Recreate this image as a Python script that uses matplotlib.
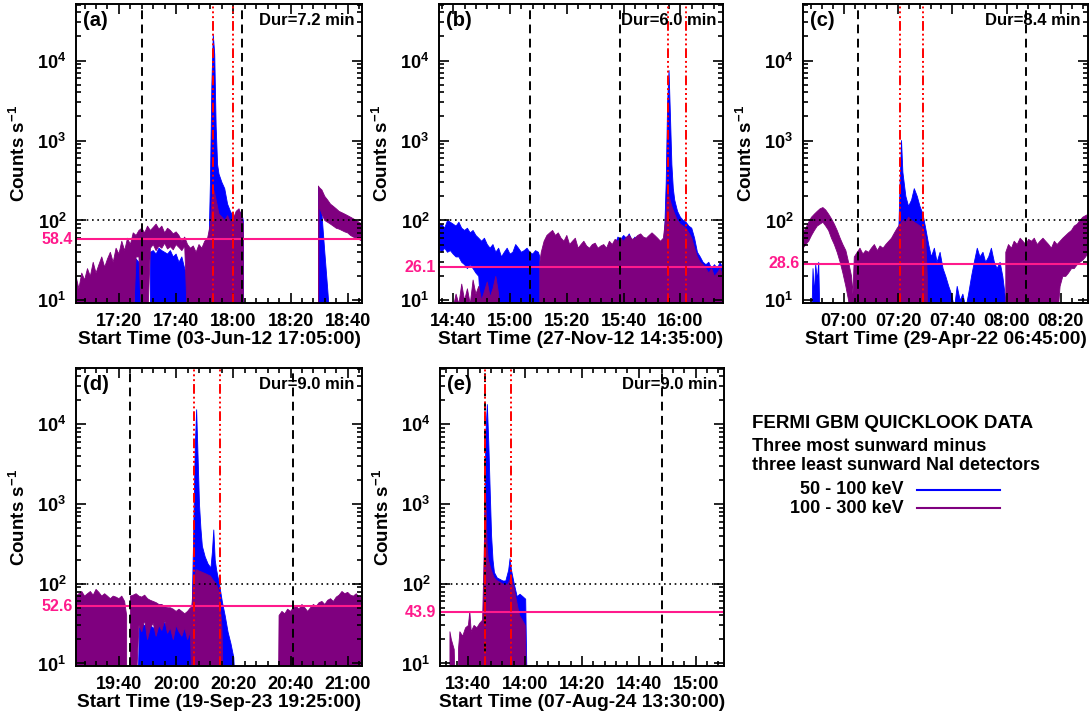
import numpy as np
import matplotlib
matplotlib.use("Agg")
import matplotlib.pyplot as plt
from matplotlib.lines import Line2D
from matplotlib.ticker import FixedLocator, FixedFormatter, LogLocator, NullFormatter
import matplotlib.transforms as mtransforms

plt.rcParams["font.family"] = ["Liberation Sans", "DejaVu Sans"]
plt.rcParams["font.weight"] = "bold"
plt.rcParams["mathtext.fontset"] = "custom"
plt.rcParams["mathtext.rm"] = "Liberation Sans:bold"
plt.rcParams["mathtext.bf"] = "Liberation Sans:bold"
plt.rcParams["axes.linewidth"] = 1.4

BLUE = "#0000ff"
PURPLE = "#7f007f"
PINK = "#ff1a8c"
FLOOR = 5  # below the axis, marks "down to the bottom"

# ---- panel (a): 03-Jun-12, minutes after 17:05 ----
A_PURPLE_T = [0, 1, 2, 3, 4, 5, 6, 7, 8, 9, 10, 11, 12, 13, 14, 15, 16, 17, 18, 19, 20, 21, 22,
              23, 24, 25, 26, 27, 28, 29, 30, 31, 32, 33, 34, 35, 36,
              37, 38, 39, 40, 41, 42, 43, 44, 45, 46,
              47, 47.5, 48, 48.5, 49, 50, 51, 52, 53, 54, 55, 56, 57, 58, 58.5, None,
              84.8, 85, 86, 87, 88, 89, 90, 91, 92, 93, 94, 95, 96, 97, 98, 99, 100]
A_PURPLE_HI = [20, 14, 22, 18, 25, 20, 30, 22, 28, 35, 26, 33, 40, 30, 45, 38, 55, 42, 60, 50, 70, 65, 75,
               80, 70, 85, 75, 82, 90, 78, 85, 70, 80, 75, 68, 72, 65,
               55, 62, 50, 45, 48, 40, 50, 45, 55, 60,
               90, 180, 250, 220, 180, 120, 110, 100, 115, 95, 105, 130, 140, 110, 90, None,
               270, 260, 240, 200, 180, 160, 150, 140, 130, 125, 120, 115, 110, 105, 100, 95, 90]
A_PURPLE_LO = [5] * 21 + [35, 35, 5, 5, 5] + [45, 50, 42, 48, 45, 52, 44, 47, 43, 50, 46, 42, 48] + [5] * 8 + \
              [5] * 15 + [None, 5, 150, 120, 100, 95, 90, 85, 80, 78, 75, 72, 70, 65, 62, 60, 58, 55]
A_BLUE_T = [20.5, 21, 22, 23, None,
            26, 27, 28, 29, 30, 31, 32, 33, 34, 35, 36, 37, 38, 39, None,
            46.5, 47, 47.5, 48, 48.5, 49, 49.5, 50, 51, 52, 53, 54, 55, 56, 57, 58, 58.5, None,
            84.8, 85, 86, 87, 88, 88.5]
A_BLUE_HI = [28, 33, 30, 26, None,
             40, 42, 38, 45, 42, 40, 38, 42, 35, 38, 30, 35, 25, 20, None,
             50, 300, 5000, 21000, 12000, 1500, 500, 380, 300, 250, 160, 130, 110, 115, 130, 120, 100, None,
             260, 250, 120, 40, 14, 8]

# ---- panel (b): 27-Nov-12, minutes after 14:35 ----
B_PURPLE_T = [5, 6, 7, 8, 9, 10, 11, 12, 13, 14, 15, 16, 17, 18, 19, 20, 21, None,
              35.5, 36, 37, 38, 39, 40, 41, 42, 43, 44, 45, 46, 47, 48, 49, 50, 51, 52, 53, 54, 55,
              56, 57, 58, 59, 60, 61, 62, 63, 64, 65, 66, 67, 68, 69, 70, 71, 72, 73, 74, 75,
              76, 77, 78, 79, 80, 80.5, 81, 82, 83, 84, 85, 86, 87, 88, 89, 90, 91, 92, 93, 94,
              95, 96, 97, 98, 99, 100]
B_PURPLE_HI = [8, 12, 9, 16, 10, 14, 9, 18, 12, 15, 10, 13, 17, 11, 14, 20, 12, None,
               30, 40, 55, 65, 70, 75, 65, 70, 60, 55, 65, 50, 55, 60, 45, 50, 55, 48, 45, 50, 52,
               45, 48, 50, 45, 55, 50, 58, 55, 60, 55, 62, 65, 58, 60, 65, 68, 62, 60, 65, 70,
               65, 60, 55, 60, 120, 250, 200, 150, 120, 100, 90, 85, 80, 70, 60, 45, 35, 30, 28, 25,
               22, 25, 20, 22, 25, 20]
B_BLUE_T = [0, 1, 2, 3, 4, 5, 6, 7, 8, 9, 10, 11, 12, 13, 14, 15, 16, 17, 18, 19, 20, 21, 22, 23,
            24, 25, 26, 27, 28, 29, 30, 31, 32, 33, 34, 35, 35.5, None,
            62, 63, 64, 65, 66, 67, 68, 69, 70, None,
            79.5, 80, 80.5, 81, 81.5, 82, 82.5, 83, 84, 85, 86, 87, 88, 89, 90, 91, 92, 93, 94,
            95, 96, 97, 98, 99, 100]
B_BLUE_HI = [85, 90, 80, 100, 95, 90, 85, 95, 80, 75, 80, 70, 75, 65, 60, 55, 60, 50, 45, 50, 40, 45, 35, 40,
             45, 38, 40, 50, 45, 40, 42, 45, 40, 38, 42, 40, 35, None,
             50, 62, 58, 65, 60, 68, 55, 62, 50, None,
             80, 300, 3000, 7500, 2000, 500, 250, 180, 130, 110, 100, 95, 85, 80, 60, 40, 35, 30, 28,
             30, 25, 28, 25, 30, 25]
B_BLUE_LO = [45, 40, 45, 40, 42, 38, 35, 35, 30, 28, 25, 28, 25, 22, 20] + [5] * 22 + [None] + [5] * 9 + [None] + [5] * 25

# ---- panel (c): 29-Apr-22, minutes after 06:45 (axis spans 105 min) ----
C_PURPLE_T = [0, 1.05, 2.1, 3.15, 4.2, 5.25, 6.3, 7.35, 8.4, 9.45, 10.5, 11.55, 12.6, 13.7, 14.7, 15.8,
              16.8, 17.9, 18.4,
              18.9, 20.0, 21.0, 22.1, 23.1, 24.2, 25.2, 26.3, 27.4, 28.4, 29.5, 30.5, 31.6, 32.6,
              33.7, 34.7, 35.8, 36.8, 37.9, 38.9, 40.0, 41.0, 42.1, 43.1, 44.2, 45.2, 45.8, None,
              74.7, 75.7, 76.8, 77.8, 78.9, 80.0, 81.0, 82.1, 83.1, 84.2, 85.2, 86.3, 87.3, 88.4, 89.4,
              90.5, 91.5, 92.6, 93.6, 94.7, 95.7, 96.8, 97.8, 98.9, 99.9, 101.0, 102.0, 103.1, 104.1, 105.2]
C_PURPLE_HI = [70, 80, 95, 110, 120, 130, 140, 145, 135, 120, 105, 90, 75, 60, 50, 42, 30, 20, 12,
               35, 40, 45, 38, 42, 40, 45, 50, 42, 48, 45, 50, 55, 60,
               70, 80, 90, 100, 95, 110, 100, 95, 90, 85, 80, 60, 20, None,
               40, 50, 45, 55, 50, 60, 55, 50, 58, 55, 60, 50, 55, 60, 55, 50, 45, 55, 50,
               55, 60, 65, 70, 75, 85, 90, 100, 110, 115, 120]
C_PURPLE_LO = [45, 50, 55, 65, 75, 85, 90, 95, 85, 75, 60, 50, 40, 30, 22, 15, 10, 5, 5] + [5] * 27 + [None] + \
              [5] * 19 + [15, 20, 20, 22, 25, 25, 28, 30, 32, 35, 40]
C_BLUE_T = [3.2, 3.7, 4.2, 4.7, 5.3, 5.8, 6.3, None,
            34.7, 35.2, 35.8, 36.3, 36.8, 37.9, 38.9, 40.0, 41.0, 42.1, 43.1, 44.2, 45.2, 46.3, 47.3,
            48.4, 49.4, 50.5, 51.6, 52.6, 53.7, 54.7,
            55.8, 56.8, 57.9, 58.9, 60.0, 61.0, 62.1, 63.1, 64.2, 65.2, 66.3, 67.3, 68.4, 69.4, 70.5,
            71.5, 72.6, 73.6, 74.7]
C_BLUE_HI = [5, 25, 12, 28, 18, 30, 5, None,
             50, 60, 300, 1000, 400, 200, 150, 180, 250, 200, 150, 120, 80, 50, 35, 45, 30, 40, 25, 20, 15, 12,
             8, 15, 10, 12, 8, 12, 20, 30, 45, 35, 40, 30, 35, 45, 30, 25, 30, 20, 10]

# ---- panel (d): 19-Sep-23, minutes after 19:25 ----
D_PURPLE_T = [0, 1, 2, 3, 4, 5, 6, 7, 8, 9, 10, 11, 12, 13, 14, 15, 16, 17, 17.7, None,
              19, 20, 21, 22, 23, 24, 25, 26, 27, 28, 29, 30, 31, 32, 33, 34, 35, 36, 37, 38, 39, 40,
              40.5, 41, 42, 43, 44, 45, 46, 47, 48, 49, 50, 51, 51.5, None,
              70.8, 71, 72, 73, 74, 75, 76, 77, 78, 79, 80, 81, 82, 83, 84, 85, 86, 87, 88, 89,
              90, 91, 92, 93, 94, 95, 96, 97, 98, 99, 100]
D_PURPLE_HI = [70, 75, 80, 70, 75, 80, 72, 85, 78, 70, 75, 70, 65, 70, 68, 65, 70, 60, 40, None,
               70, 72, 75, 70, 68, 72, 65, 62, 60, 58, 55, 55, 52, 50, 50, 48, 45, 48, 45, 42, 45, 50,
               50, 100, 150, 145, 140, 135, 130, 125, 110, 100, 80, 30, 5, None,
               5, 40, 45, 42, 48, 45, 50, 52, 48, 55, 50, 45, 50, 55, 52, 58, 60, 55, 62, 65,
               60, 68, 72, 80, 75, 78, 72, 70, 75, 68, 70]
D_PURPLE_LO = [5] * 19 + [None] + [5, 5, 5] + \
              [30, 25, 35, 20, 28, 32, 22, 30, 26, 35, 24, 28, 20, 30, 25, 22, 28, 20, 25] + [5] * 13 + [None] + [5] * 31
D_BLUE_T = [21.5, 22, 23, 24, 25, 26, 27, 28, 29, 30, 31, 32, 33, 34, 35, 36, 37, 38, 39, 40,
            40.5, 41, 41.5, 42, 42.5, 43, 43.5, 44, 45, 46, 47, 47.5, 48, 48.5, 49, 50, 51, 52,
            53, 54, 55, 55.5]
D_BLUE_HI = [5, 28, 32, 30, 35, 30, 28, 33, 30, 35, 32, 30, 28, 35, 30, 32, 30, 35, 38, 40,
             60, 500, 5000, 15500, 4000, 1000, 500, 300, 220, 180, 160, 250, 480, 200, 150, 100, 60, 40,
             25, 18, 12, 5]

# ---- panel (e): 07-Aug-24, minutes after 13:30 ----
E_PURPLE_T = [3.5, 4, 5, 5.4, None,
              6.5, 7, 8, 9, 10, 10.5, 11, 12, 13, 14, 15, 15.5, 16, 16.3, 16.6, 17,
              18, 19, 20, 21, 22, 23, 24, 25, 26, 27, 28, 29, 30, 30.5]
E_PURPLE_HI = [25, 20, 15, 5, None,
               15, 25, 22, 28, 30, 45, 25, 30, 28, 32, 35, 200, 1500, 800, 300, 200,
               150, 120, 110, 105, 100, 95, 100, 120, 90, 60, 40, 35, 30, 5]
E_BLUE_T = [15.5, 16, 16.5, 17, 17.5, 18, 18.5, 19, 20, 21, 22, 23, 24, 24.5,
            25, 26, 27, 28, 29, 30, 30.5]
E_BLUE_HI = [500, 8000, 18000, 6000, 1500, 400, 200, 140, 120, 115, 110, 110, 150, 210,
             150, 100, 70, 75, 70, 65, 5]

PANEL_LETTERS = ["(a)", "(b)", "(c)", "(d)", "(e)"]
START_TIMES = ["03-Jun-12 17:05:00", "27-Nov-12 14:35:00", "29-Apr-22 06:45:00",
               "19-Sep-23 19:25:00", "07-Aug-24 13:30:00"]
DURATIONS = [7.2, 6.0, 8.4, 9.0, 9.0]
BACKGROUNDS = [58.4, 26.1, 28.6, 52.6, 43.9]
BLACK_LINES = [[23.0, 58.0], [32.2, 63.7], [20.2, 82.3], [18.7, 75.9], [16.0, 78.1]]
RED_LINES = [[47.8, 55.0], [80.8, 86.8], [35.8, 44.2], [41.2, 50.2], [15.9, 24.9]]
X_SPANS = [100, 100, 105, 100, 100]
X_TICKS = [[15, 35, 55, 75, 95], [5, 25, 45, 65, 85], [15, 35, 55, 75, 95],
           [15, 35, 55, 75, 95], [10, 30, 50, 70, 90]]
X_TICKLABELS = [["17:20", "17:40", "18:00", "18:20", "18:40"],
                ["14:40", "15:00", "15:20", "15:40", "16:00"],
                ["07:00", "07:20", "07:40", "08:00", "08:20"],
                ["19:40", "20:00", "20:20", "20:40", "21:00"],
                ["13:40", "14:00", "14:20", "14:40", "15:00"]]

PURPLE_DATA = [(A_PURPLE_T, A_PURPLE_HI, A_PURPLE_LO), (B_PURPLE_T, B_PURPLE_HI, None),
               (C_PURPLE_T, C_PURPLE_HI, C_PURPLE_LO), (D_PURPLE_T, D_PURPLE_HI, D_PURPLE_LO),
               (E_PURPLE_T, E_PURPLE_HI, None)]
BLUE_DATA = [(A_BLUE_T, A_BLUE_HI, None), (B_BLUE_T, B_BLUE_HI, B_BLUE_LO),
             (C_BLUE_T, C_BLUE_HI, None), (D_BLUE_T, D_BLUE_HI, None),
             (E_BLUE_T, E_BLUE_HI, None)]

POSITIONS = [[0.0697, 0.5798, 0.2621, 0.4147], [0.4024, 0.5798, 0.2603, 0.4147],
             [0.7360, 0.5798, 0.2613, 0.4147], [0.0697, 0.0763, 0.2621, 0.4133],
             [0.4033, 0.0763, 0.2603, 0.4133]]


def to_arr(values):
    return np.array([np.nan if v is None else v for v in values], dtype=float)


def fill_band(ax, series, color):
    t, hi, lo = series
    t = to_arr(t)
    hi = to_arr(hi)
    lo = to_arr(lo) if lo is not None else np.where(np.isnan(hi), np.nan, FLOOR)
    ax.fill_between(t, lo, hi, color=color, lw=0.6, edgecolor=color)


fig = plt.figure(figsize=(10.91, 7.21), dpi=100)

for i in range(5):
    ax = fig.add_axes(POSITIONS[i])
    fill_band(ax, BLUE_DATA[i], BLUE)
    fill_band(ax, PURPLE_DATA[i], PURPLE)

    ax.axhline(100, color="black", ls=(0, (1, 2.2)), lw=1.2)
    ax.axhline(BACKGROUNDS[i], color=PINK, lw=1.5)
    for x in BLACK_LINES[i]:
        ax.axvline(x, color="black", lw=1.4, dashes=(4.5, 2.8))
    for x in RED_LINES[i]:
        ax.axvline(x, color="red", lw=1.4, dashes=(5, 1.5, 1, 1.5, 1, 1.5, 1, 1.5))

    ax.set_yscale("log")
    ax.set_ylim(9.3, 5.1e4)
    ax.set_xlim(0, X_SPANS[i])
    ax.yaxis.set_major_locator(FixedLocator([10, 100, 1000, 10000]))
    ax.yaxis.set_major_formatter(FixedFormatter(
        [r"$\mathbf{10^{1}}$", r"$\mathbf{10^{2}}$", r"$\mathbf{10^{3}}$", r"$\mathbf{10^{4}}$"]))
    ax.yaxis.set_minor_locator(LogLocator(base=10, subs=np.arange(2, 10), numticks=12))
    ax.yaxis.set_minor_formatter(NullFormatter())
    ax.xaxis.set_major_locator(FixedLocator(X_TICKS[i]))
    ax.xaxis.set_major_formatter(FixedFormatter(X_TICKLABELS[i]))
    ax.xaxis.set_minor_locator(FixedLocator(list(range(X_TICKS[i][0] % 4, X_SPANS[i] + 1, 4))))
    ax.tick_params(which="both", direction="in", top=True, right=True, width=1.2)
    ax.tick_params(which="major", length=7, labelsize=13, pad=7)
    ax.tick_params(which="minor", length=3.5)
    for lab in ax.get_xticklabels():
        lab.set_fontweight("bold")

    ax.set_xlabel("Start Time (" + START_TIMES[i] + ")", fontsize=13.8, fontweight="bold", labelpad=1)
    ax.set_ylabel(r"Counts s$^{\mathbf{-1}}$", fontsize=13.5, fontweight="bold")
    ax.yaxis.set_label_coords(-0.165, 0.5)

    ax.text(0.025, 0.975, PANEL_LETTERS[i], transform=ax.transAxes, ha="left", va="top",
            fontsize=14.5, fontweight="bold")
    ax.text(0.975, 0.97, "Dur=%.1f min" % DURATIONS[i], transform=ax.transAxes,
            ha="right", va="top", fontsize=12, fontweight="bold")
    trans = mtransforms.blended_transform_factory(ax.transAxes, ax.transData)
    ax.text(-0.012, BACKGROUNDS[i], "%.1f" % BACKGROUNDS[i], transform=trans, ha="right",
            va="center", color=PINK, fontsize=11.5, fontweight="bold")

# legend block
fig.text(0.689, 0.4133, "FERMI GBM QUICKLOOK DATA", fontsize=13.5, fontweight="bold", va="center")
fig.text(0.689, 0.3805, "Three most sunward minus", fontsize=13, fontweight="bold", va="center")
fig.text(0.689, 0.3550, "three least sunward NaI detectors", fontsize=13, fontweight="bold", va="center")
fig.text(0.828, 0.3204, "50 - 100 keV", fontsize=13, fontweight="bold", va="center", ha="right")
fig.text(0.828, 0.2950, "100 - 300 keV", fontsize=13, fontweight="bold", va="center", ha="right")
fig.add_artist(Line2D([0.8405, 0.9166], [0.3204, 0.3204], color=BLUE, lw=1.5))
fig.add_artist(Line2D([0.8405, 0.9166], [0.2950, 0.2950], color=PURPLE, lw=1.5))

fig.savefig("out.png", dpi=100)
